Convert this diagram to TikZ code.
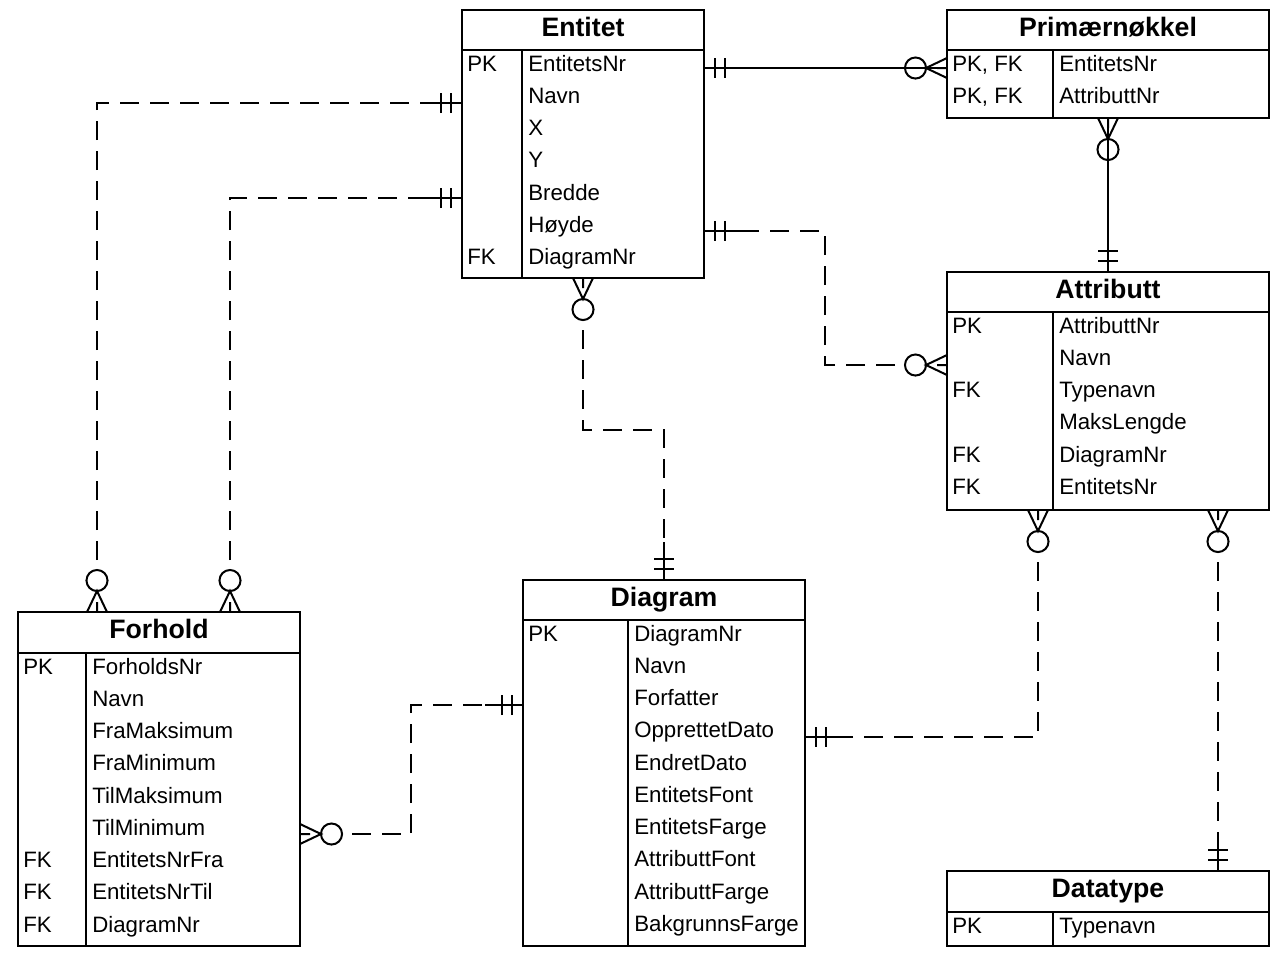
\documentclass[tikz,border=0pt]{standalone}
\usepackage{fontspec}
\setmainfont{Liberation Sans}
\tikzset{
  tblbox/.style={draw, line width=1.5pt, inner sep=0pt, outer sep=0pt},
  ttl/.style={anchor=base, inner sep=0pt, font=\fontsize{20}{24}\selectfont\bfseries},
  cell/.style={anchor=base west, inner sep=0pt, font=\fontsize{16.7}{20}\selectfont},
  conn/.style={line width=1.5pt},
  dconn/.style={line width=1.5pt, dash pattern=on 14pt off 8.5pt, dash phase=15pt},
  mandone/.pic={\draw[solid, line width=1.5pt] (0,0) -- (38,0) (11,-10) -- (11,10) (21,-10) -- (21,10);},
  zeromany/.pic={\draw[solid, line width=1.5pt] (0,-10) -- (21,0) -- (0,10) (0,0) -- (10,0) (31.5,0) circle[radius=7.9pt];},
}
% #1 name, #2 x1, #3 y1, #4 x2, #5 y2, #6 header bottom, #7 divider x, #8 title, #9 rows
\newcommand\ertable[9]{%
  \node[tblbox, minimum width={(#4-#2)*0.75pt}, minimum height={(#5-#3)*0.75pt}] (#1) at ({(#2+#4)/2},{(#3+#5)/2}) {};
  \draw[line width=1.5pt] (#2,#6) -- (#4,#6) (#7,#6) -- (#7,#5);
  \node[ttl] (#1-t) at ({(#2+#4)/2},{#3+26.5}) {#8};
  \foreach \k/\n [count=\i] in {#9} {
    \node[cell] (#1-k\i) at ({#2+5},{#6+21+(\i-1)*32.25}) {\k};
    \node[cell] (#1-n\i) at ({#7+6},{#6+21+(\i-1)*32.25}) {\n};
  }%
}
\begin{document}
\begin{tikzpicture}[x=0.75pt, y=-0.75pt]
\useasboundingbox[fill=white] (0,0) rectangle (1279,958);

\ertable{entitet}{462}{10}{704}{278}{50}{522}{Entitet}{PK/EntitetsNr, /Navn, /X, /Y, /Bredde, /Høyde, FK/DiagramNr}
\ertable{prim}{947}{10}{1269}{118}{50}{1053}{Primærnøkkel}{{PK, FK}/EntitetsNr, {PK, FK}/AttributtNr}
\ertable{attr}{947}{272}{1269}{510}{312}{1053}{Attributt}{PK/AttributtNr, /Navn, FK/Typenavn, /MaksLengde, FK/DiagramNr, FK/EntitetsNr}
\ertable{diagram}{523}{580}{805}{946}{620}{628}{Diagram}{PK/DiagramNr, /Navn, /Forfatter, /OpprettetDato, /EndretDato, /EntitetsFont, /EntitetsFarge, /AttributtFont, /AttributtFarge, /BakgrunnsFarge}
\ertable{forhold}{18}{612}{300}{946}{653}{86}{Forhold}{PK/ForholdsNr, /Navn, /FraMaksimum, /FraMinimum, /TilMaksimum, /TilMinimum, FK/EntitetsNrFra, FK/EntitetsNrTil, FK/DiagramNr}
\ertable{datatype}{947}{871}{1269}{946}{912}{1053}{Datatype}{PK/Typenavn}

% 1 Entitet -- Primærnøkkel
\draw[conn] (entitet.east |- 0,68) -- (prim.west |- 0,68);
\pic[rotate=0] at (entitet.east |- 0,68) {mandone};
\pic[rotate=180] at (prim.west |- 0,68) {zeromany};

% 2 Primærnøkkel -- Attributt
\draw[conn] (1108,0 |- prim.south) -- (1108,0 |- attr.north);
\pic[rotate=270] at (1108,0 |- prim.south) {zeromany};
\pic[rotate=90] at (1108,0 |- attr.north) {mandone};

% 3 Forhold -- Entitet (upper)
\draw[dconn] (97,0 |- forhold.north) ++(0,-42) |- (entitet.west |- 0,103);
\pic[rotate=90] at (97,0 |- forhold.north) {zeromany};
\pic[rotate=180] at (entitet.west |- 0,103) {mandone};

% 4 Forhold -- Entitet (lower)
\draw[dconn] (230,0 |- forhold.north) ++(0,-42) |- (entitet.west |- 0,198);
\pic[rotate=90] at (230,0 |- forhold.north) {zeromany};
\pic[rotate=180] at (entitet.west |- 0,198) {mandone};

% 5 Attributt -- Entitet
\draw[dconn] (attr.west |- 0,365) ++(-42,0) -| (825,231) -- (entitet.east |- 0,231);
\pic[rotate=180] at (attr.west |- 0,365) {zeromany};
\pic[rotate=0] at (entitet.east |- 0,231) {mandone};

% 6 Entitet -- Diagram
\draw[dconn] (583,0 |- entitet.south) ++(0,42) |- (664,430) -- (664,0 |- diagram.north);
\pic[rotate=270] at (583,0 |- entitet.south) {zeromany};
\pic[rotate=90] at (664,0 |- diagram.north) {mandone};

% 7 Forhold -- Diagram
\draw[dconn] (forhold.east |- 0,834) ++(42,0) -| (411,705) -- (diagram.west |- 0,705);
\pic[rotate=0] at (forhold.east |- 0,834) {zeromany};
\pic[rotate=180] at (diagram.west |- 0,705) {mandone};

% 8 Attributt -- Diagram
\draw[dconn] (1038,0 |- attr.south) ++(0,42) |- (diagram.east |- 0,737);
\pic[rotate=270] at (1038,0 |- attr.south) {zeromany};
\pic[rotate=0] at (diagram.east |- 0,737) {mandone};

% 9 Attributt -- Datatype
\draw[dconn] (1218,0 |- attr.south) ++(0,42) -- (1218,0 |- datatype.north);
\pic[rotate=270] at (1218,0 |- attr.south) {zeromany};
\pic[rotate=90] at (1218,0 |- datatype.north) {mandone};
\end{tikzpicture}
\end{document}
